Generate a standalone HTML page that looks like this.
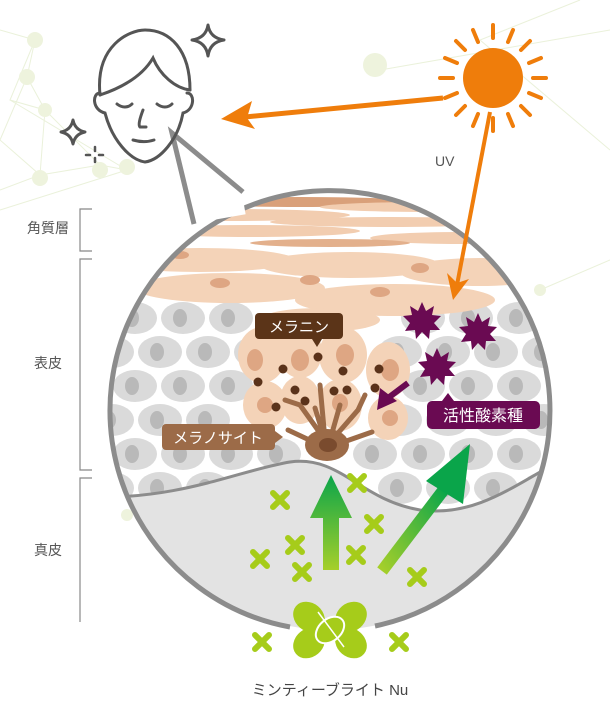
<!DOCTYPE html>
<html><head><meta charset="utf-8"><style>
html,body{margin:0;padding:0;background:#fff;}
svg{display:block;font-family:"Liberation Sans","Noto Sans CJK JP",sans-serif;}
</style></head><body>
<svg width="610" height="720" viewBox="0 0 610 720" xmlns="http://www.w3.org/2000/svg">
<defs>
<clipPath id="c"><circle cx="331" cy="410" r="220"/></clipPath>
<linearGradient id="g1" x1="0" y1="1" x2="0" y2="0"><stop offset="0" stop-color="#a6cf2a"/><stop offset="1" stop-color="#0aa54a"/></linearGradient>
<linearGradient id="g2" x1="0" y1="1" x2="1" y2="0"><stop offset="0" stop-color="#a6cf2a"/><stop offset="1" stop-color="#0aa54a"/></linearGradient>
<g id="x"><path d="M-7,-7 L7,7 M7,-7 L-7,7" stroke="#a6cc1a" stroke-width="6" stroke-linecap="round"/></g>
<g id="st"><polygon fill="#6a0a52" points="0,-18 4,-9 12,-14 10,-5 19,-4 12,3 18,10 8,10 7,19 0,12 -6,19 -7,10 -17,11 -12,3 -19,-4 -10,-5 -12,-14 -4,-9"/></g>
<g id="gc"><ellipse rx="22" ry="16" fill="#dadada"/><ellipse cx="-3" rx="7" ry="9" fill="#b9b9b9"/></g>
</defs>
<!-- background network -->
<g stroke="#e8efd6" stroke-width="1" fill="none" opacity="0.9">
<path d="M0,30 L35,40 L27,77 L45,110 L40,175 L100,165 L127,170 L0,210 M35,40 L10,100 L45,110 L100,165 M27,77 L0,140 L40,175 L0,190 M10,100 L127,170 M580,0 L480,40 L610,150 M380,70 L610,30 M540,290 L610,260"/>
</g>
<g fill="#eef3dd"><circle cx="35" cy="40" r="8"/><circle cx="27" cy="77" r="8"/><circle cx="45" cy="110" r="7"/><circle cx="100" cy="170" r="8"/><circle cx="127" cy="167" r="8"/><circle cx="40" cy="178" r="8"/><circle cx="375" cy="65" r="12"/><circle cx="540" cy="290" r="6"/><circle cx="127" cy="515" r="6"/></g>

<!-- skin inside circle -->
<g clip-path="url(#c)">
<rect x="100" y="180" width="470" height="470" fill="#fff"/>
<!-- gray cells -->
<g>
<use href="#gc" x="135" y="318"/><use href="#gc" x="183" y="318"/><use href="#gc" x="231" y="318"/><use href="#gc" x="423" y="318"/><use href="#gc" x="471" y="318"/><use href="#gc" x="519" y="318"/>
<use href="#gc" x="112" y="352"/><use href="#gc" x="160" y="352"/><use href="#gc" x="208" y="352"/><use href="#gc" x="256" y="352"/><use href="#gc" x="400" y="352"/><use href="#gc" x="448" y="352"/><use href="#gc" x="496" y="352"/><use href="#gc" x="544" y="352"/>
<use href="#gc" x="135" y="386"/><use href="#gc" x="183" y="386"/><use href="#gc" x="231" y="386"/><use href="#gc" x="423" y="386"/><use href="#gc" x="471" y="386"/><use href="#gc" x="519" y="386"/>
<use href="#gc" x="112" y="420"/><use href="#gc" x="160" y="420"/><use href="#gc" x="208" y="420"/><use href="#gc" x="400" y="420"/><use href="#gc" x="448" y="420"/><use href="#gc" x="496" y="420"/><use href="#gc" x="544" y="420"/>
<use href="#gc" x="135" y="454"/><use href="#gc" x="183" y="454"/><use href="#gc" x="231" y="454"/><use href="#gc" x="279" y="454"/><use href="#gc" x="375" y="454"/><use href="#gc" x="423" y="454"/><use href="#gc" x="471" y="454"/><use href="#gc" x="519" y="454"/>
<use href="#gc" x="112" y="488"/><use href="#gc" x="160" y="488"/><use href="#gc" x="208" y="488"/><use href="#gc" x="256" y="488"/><use href="#gc" x="400" y="488"/><use href="#gc" x="448" y="488"/><use href="#gc" x="496" y="488"/><use href="#gc" x="544" y="488"/>
</g>
<!-- corneum -->
<rect x="100" y="180" width="470" height="68" fill="#fff"/>
<g fill="#f2cdb0">
<ellipse cx="300" cy="202" rx="120" ry="5" fill="#d9a07a"/>
<ellipse cx="430" cy="207" rx="110" ry="5"/>
<ellipse cx="230" cy="215" rx="120" ry="6"/>
<ellipse cx="390" cy="222" rx="120" ry="5"/>
<ellipse cx="250" cy="231" rx="110" ry="6"/>
<ellipse cx="460" cy="238" rx="90" ry="6"/>
<ellipse cx="330" cy="243" rx="80" ry="4" fill="#e3b08c"/>
</g>
<g fill="#f4d3b8">
<ellipse cx="200" cy="260" rx="95" ry="12"/>
<ellipse cx="350" cy="265" rx="90" ry="13"/>
<ellipse cx="480" cy="272" rx="80" ry="14"/>
<ellipse cx="230" cy="288" rx="95" ry="15"/>
<ellipse cx="395" cy="300" rx="100" ry="16"/>
<ellipse cx="320" cy="320" rx="60" ry="12"/>
</g>
<g fill="#f4d3b8">
<ellipse cx="262" cy="355" rx="24" ry="28"/><ellipse cx="300" cy="352" rx="22" ry="26"/><ellipse cx="343" cy="355" rx="24" ry="28"/><ellipse cx="388" cy="370" rx="22" ry="28"/>
<ellipse cx="265" cy="405" rx="22" ry="24"/><ellipse cx="300" cy="400" rx="20" ry="24"/><ellipse cx="340" cy="405" rx="22" ry="26"/><ellipse cx="388" cy="418" rx="20" ry="22"/>
</g>
<g fill="#dea683"><ellipse cx="255" cy="360" rx="8" ry="11"/><ellipse cx="300" cy="360" rx="9" ry="11"/><ellipse cx="345" cy="355" rx="9" ry="11"/><ellipse cx="390" cy="370" rx="9" ry="11"/><ellipse cx="265" cy="405" rx="8" ry="8"/><ellipse cx="340" cy="403" rx="8" ry="9"/><ellipse cx="390" cy="418" rx="8" ry="8"/><ellipse cx="310" cy="280" rx="10" ry="5"/><ellipse cx="380" cy="292" rx="10" ry="5"/><ellipse cx="220" cy="283" rx="10" ry="5"/><ellipse cx="420" cy="268" rx="9" ry="5"/><ellipse cx="180" cy="255" rx="9" ry="4"/></g>
<!-- dermis -->
<path d="M90,497 C180,500 240,470 290,462 C340,455 360,500 420,510 C480,518 520,480 580,450 L580,660 L90,660 Z" fill="#e3e3e3"/>
<path d="M90,497 C180,500 240,470 290,462 C340,455 360,500 420,510 C480,518 520,480 580,450" fill="none" stroke="#8c8c8c" stroke-width="3"/>
</g>
<!-- circle outline with gap at bottom -->
<path d="M290,627 A220,220 0 1 1 375,626" fill="none" stroke="#8c8c8c" stroke-width="5"/>
<!-- bubble tail -->
<rect x="180" y="150" width="60" height="70" fill="#fff" transform="rotate(-10 210 185)"/>
<polyline points="194,224 172,133 243,192" fill="none" stroke="#8c8c8c" stroke-width="5" stroke-linejoin="miter"/>

<!-- melanocyte -->
<g stroke="#9c6b48" stroke-width="5" stroke-linecap="round" fill="none">
<path d="M325,440 L320,385 M325,440 L300,405 L285,400 M325,440 L315,408 M330,440 L340,405 M332,440 L358,410 L365,395 M320,445 L288,430 M335,445 L372,432"/>
</g>
<ellipse cx="327" cy="445" rx="22" ry="16" fill="#9c6b48"/><ellipse cx="328" cy="445" rx="9" ry="7" fill="#7a4b2e"/>
<g fill="#5a321a"><circle cx="318" cy="357" r="4.5"/><circle cx="283" cy="369" r="4.5"/><circle cx="258" cy="382" r="4.5"/><circle cx="343" cy="371" r="4.5"/><circle cx="379" cy="369" r="4.5"/><circle cx="295" cy="390" r="4.5"/><circle cx="305" cy="401" r="4.5"/><circle cx="334" cy="391" r="4.5"/><circle cx="347" cy="390" r="4.5"/><circle cx="375" cy="388" r="4.5"/><circle cx="276" cy="407" r="4.5"/></g>
<!-- labels -->
<rect x="255" y="313" width="88" height="26" rx="4" fill="#5b3418"/><polygon points="312,339 322,339 317,347" fill="#5b3418"/>
<text x="299" y="332" font-size="15" fill="#fff" text-anchor="middle">メラニン</text>
<rect x="162" y="424" width="113" height="26" rx="4" fill="#9c6b48"/><polygon points="275,431 283,437 275,443" fill="#9c6b48"/>
<text x="218" y="443" font-size="15" fill="#fff" text-anchor="middle">メラノサイト</text>
<rect x="427" y="401" width="113" height="28" rx="5" fill="#6a0a52"/><polygon points="442,401 448,393 454,401" fill="#6a0a52"/>
<text x="483" y="421" font-size="16" fill="#fff" text-anchor="middle">活性酸素種</text>
<!-- ROS -->
<use href="#st" x="422" y="320"/><use href="#st" x="478" y="331"/><use href="#st" x="437" y="366"/>
<path d="M408,383 L388,398" stroke="#6a0a52" stroke-width="6"/><polygon points="377,410 380,388 397,401" fill="#6a0a52"/>

<!-- green arrows -->
<polygon points="323,570 339,570 339,518 352,518 331,475 310,518 323,518" fill="url(#g1)"/>
<path d="M382,571 L445,488" stroke="url(#g2)" stroke-width="12"/>
<polygon points="426,481 470,444 463,504" fill="#0aa54a"/>
<g>
<use href="#x" x="280" y="500"/><use href="#x" x="357" y="483"/><use href="#x" x="374" y="524"/><use href="#x" x="295" y="545"/><use href="#x" x="260" y="559"/><use href="#x" x="356" y="555"/><use href="#x" x="302" y="572"/><use href="#x" x="417" y="577"/><use href="#x" x="262" y="642"/><use href="#x" x="399" y="642"/>
</g>
<!-- mint -->
<g fill="#a6cc1a"><ellipse cx="309" cy="617" rx="17" ry="14" transform="rotate(40 309 617)"/><ellipse cx="351" cy="617" rx="17" ry="14" transform="rotate(-40 351 617)"/><ellipse cx="309" cy="643" rx="17" ry="14" transform="rotate(-40 309 643)"/><ellipse cx="351" cy="643" rx="17" ry="14" transform="rotate(40 351 643)"/></g>
<ellipse cx="330" cy="630" rx="16" ry="11" transform="rotate(-40 330 630)" fill="#a6cc1a" stroke="#fff" stroke-width="2"/>
<path d="M318,612 L344,647" stroke="#fff" stroke-width="1.5"/>
<text x="330" y="695" font-size="15" fill="#444" text-anchor="middle">ミンティーブライト Nu</text>

<!-- face -->
<g stroke="#555" stroke-width="3" fill="none" stroke-linecap="round">
<path d="M100,95 C95,45 130,30 145,30 C170,30 190,50 190,90"/>
<path d="M100,95 C115,90 140,80 153,58 C160,75 175,88 190,90"/>
<path d="M100,93 C92,93 92,110 105,113 C112,140 130,160 145,162 C160,160 178,140 183,113 C195,110 195,93 187,93"/>
<path d="M117,104 C122,108 128,108 132,104 M157,104 C162,108 168,108 172,104 M143,110 C140,118 138,125 140,127 L146,127 M133,140 C140,142 148,142 154,140"/>
</g>
<g stroke="#555" stroke-width="3" fill="#fff" stroke-linejoin="round"><path d="M208,25 Q210,38 224,40 Q210,42 208,56 Q206,42 192,40 Q206,38 208,25Z"/><path d="M73,120 Q75,130 85,132 Q75,134 73,144 Q71,134 61,132 Q71,130 73,120Z"/></g>
<g stroke="#555" stroke-width="2.5" stroke-linecap="round"><path d="M95,147 L95,151 M95,158 L95,162 M86,155 L90,155 M99,155 L103,155"/></g>

<!-- sun & arrows -->
<g stroke="#ef7d0b" stroke-width="4" stroke-linecap="round">
<path d="M493,38 L493,25 M493,118 L493,131 M453,78 L440,78 M533,78 L546,78 M465,50 L456,41 M521,106 L530,115 M521,50 L530,41 M465,106 L456,115 M478,42 L473,30 M508,114 L513,126 M508,42 L513,30 M478,114 L473,126 M457,63 L445,58 M529,93 L541,98 M529,63 L541,58 M457,93 L445,98"/>
</g>
<circle cx="493" cy="78" r="30" fill="#ef7d0b"/>
<path d="M443,98 L245,117" stroke="#ef7d0b" stroke-width="5"/><polygon points="221,119 252,101 247,118 255,129" fill="#ef7d0b"/>
<path d="M490,112 L457,285" stroke="#ef7d0b" stroke-width="4"/><polygon points="453,300 447,273 457,283 469,279" fill="#ef7d0b"/>
<text x="435" y="166" font-size="14" fill="#555">UV</text>

<!-- left brackets -->
<g stroke="#888" stroke-width="1.2" fill="none"><path d="M92,209 L80,209 L80,251 L92,251 M92,259 L80,259 L80,470 L92,470 M92,478 L80,478 L80,622"/></g>
<g font-size="14" fill="#555" text-anchor="middle"><text x="48" y="233">角質層</text><text x="48" y="368">表皮</text><text x="48" y="555">真皮</text></g>
</svg>
</body></html>
